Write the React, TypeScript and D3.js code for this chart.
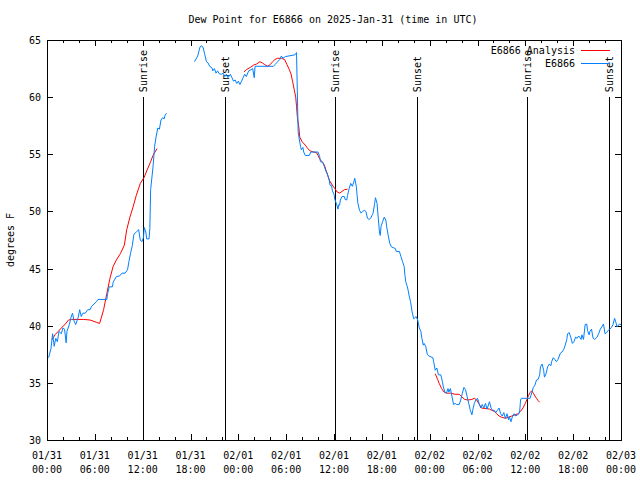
import React from 'react';
import * as d3 from 'd3';

// time = hours since 01/31 00:00 UTC, value = dew point (F)
const obsSeg1: [number, number][] = [
  [0.2, 37.2], [0.5, 38.0], [0.7, 39.3], [0.8, 38.8], [0.9, 38.2], [1.1, 38.9], [1.3, 38.6],
  [1.5, 39.5], [1.8, 39.3], [2.0, 39.8], [2.2, 39.7], [2.4, 38.5], [2.5, 39.5], [2.8, 40.1],
  [3.0, 40.7], [3.2, 41.1], [3.4, 40.4], [3.6, 40.1], [3.9, 40.7], [4.1, 41.4], [4.3, 40.8],
  [4.5, 41.1], [4.8, 41.1], [5.1, 41.4], [5.4, 41.4], [5.6, 41.7], [5.9, 41.9], [6.2, 42.1],
  [6.4, 42.3], [7.5, 42.3], [7.6, 42.8], [7.8, 43.4], [8.2, 43.4], [8.3, 43.8], [8.7, 44.3],
  [9.1, 44.35], [9.4, 44.6], [9.8, 44.6], [10.1, 44.9], [10.3, 45.7], [10.5, 46.4], [10.7, 47.0],
  [10.9, 48.0], [11.2, 48.2], [11.5, 48.4], [11.7, 47.5], [11.9, 47.35], [12.1, 47.7], [12.2, 48.6],
  [12.4, 48.2], [12.5, 47.6], [12.8, 47.6], [12.9, 48.5], [13.0, 51.9], [13.3, 53.9], [13.5, 55.7],
  [13.7, 56.6], [13.9, 57.3], [14.1, 57.2], [14.3, 58.0], [14.5, 58.2], [14.7, 58.1], [14.8, 58.4],
  [15.0, 58.6],
];

const obsSeg2: [number, number][] = [
  [18.5, 63.1], [18.9, 63.6], [19.2, 64.4], [19.4, 64.5], [19.6, 64.3], [19.8, 63.7], [20.0, 63.1],
  [20.2, 63.0], [20.4, 62.7], [20.7, 62.55], [20.8, 62.3], [21.0, 62.5], [21.2, 62.1], [21.4, 62.3],
  [21.6, 62.05], [21.9, 62.0], [22.1, 62.1], [22.3, 61.8], [22.5, 62.0], [22.7, 61.7], [23.0, 62.0],
  [23.2, 61.7], [23.4, 61.4], [23.6, 61.5], [23.8, 61.2], [24.0, 61.4], [24.2, 61.1], [24.4, 61.4],
  [24.6, 61.7], [24.8, 62.0], [25.0, 61.8], [25.3, 62.3], [25.6, 62.4], [25.8, 62.5], [26.0, 61.7],
  [26.1, 62.7], [28.4, 62.7], [28.6, 62.85], [28.8, 63.0], [29.2, 63.3], [29.4, 63.6], [29.6, 63.4],
  [29.9, 63.55], [31.1, 63.7], [31.3, 63.9], [31.4, 60.5], [31.5, 57.0], [31.6, 56.5], [31.8, 55.7],
  [31.9, 55.4], [32.1, 55.6], [32.2, 55.2], [32.4, 54.9], [32.9, 54.9], [33.1, 55.2], [34.0, 55.2],
  [34.2, 54.8], [34.3, 54.35], [34.6, 54.3], [34.8, 53.9], [35.0, 53.5], [35.2, 53.2], [35.4, 52.75],
  [35.5, 52.3], [35.7, 52.25], [35.8, 51.8], [36.0, 51.5], [36.1, 51.05], [36.3, 50.7], [36.5, 50.2],
  [36.6, 50.6], [36.7, 50.55], [36.8, 51.0], [37.0, 51.3], [37.3, 51.3], [37.4, 51.05], [37.6, 51.0],
  [37.7, 51.4], [37.9, 52.0], [38.1, 52.45], [38.3, 52.2], [38.5, 52.6], [38.6, 52.9], [38.8, 52.2],
  [38.9, 51.4], [39.0, 50.7], [39.2, 50.1], [39.4, 49.85], [39.6, 50.0], [39.8, 50.1], [40.0, 50.0],
  [40.2, 49.4], [40.4, 49.3], [40.6, 49.4], [40.8, 49.7], [40.9, 49.85], [41.1, 50.7], [41.2, 51.2],
  [41.4, 50.7], [41.5, 49.85], [41.7, 48.2], [41.8, 47.9], [41.9, 48.7], [42.1, 49.1], [42.3, 49.5],
  [42.5, 49.25], [42.6, 48.7], [42.8, 47.9], [43.0, 47.2], [43.2, 46.9], [43.7, 46.75], [43.8, 46.5],
  [44.2, 46.5], [44.4, 46.05], [44.6, 45.6], [44.8, 45.2], [44.9, 44.4], [45.0, 43.85], [45.2, 43.4],
  [45.3, 43.1], [45.4, 42.7], [45.6, 42.1], [45.8, 41.2], [46.0, 40.6], [46.3, 40.8], [46.5, 40.5],
  [46.7, 39.8], [46.9, 39.5], [47.0, 39.0], [47.2, 38.3], [47.3, 38.45], [47.5, 38.2], [47.7, 37.5],
  [47.9, 37.35], [48.4, 37.2], [48.5, 36.85], [48.7, 36.1], [48.9, 36.3], [49.1, 35.7], [49.4, 35.7],
  [49.6, 35.1], [49.7, 34.7], [49.9, 34.2], [50.1, 34.1], [50.3, 34.5], [50.4, 34.2], [50.6, 34.5],
  [50.8, 33.8], [51.0, 33.1], [51.2, 33.2], [51.4, 33.1], [51.7, 33.1], [51.9, 33.5], [52.1, 34.1],
  [52.3, 34.6], [52.5, 34.4], [52.7, 33.8], [52.9, 33.2], [53.1, 32.6], [53.3, 32.2], [53.4, 32.6],
  [53.6, 33.2], [53.8, 33.5], [54.0, 33.65], [54.2, 33.2], [54.4, 32.8], [54.6, 33.1], [54.8, 32.8],
  [55.0, 33.2], [55.2, 32.7], [55.5, 33.35], [55.7, 32.8], [55.9, 32.6], [56.1, 32.6], [56.3, 32.4],
  [56.5, 32.6], [56.7, 32.8], [56.9, 32.3], [57.1, 32.1], [57.3, 32.4], [57.5, 31.9], [57.7, 32.3],
  [57.9, 31.75], [58.0, 32.05], [58.2, 31.6], [58.4, 32.1], [58.6, 32.3], [58.8, 32.1], [59.0, 32.2],
  [59.2, 32.3], [59.3, 32.6], [59.4, 33.5], [59.5, 33.65], [60.6, 33.65], [61.0, 34.6], [61.2, 34.8],
  [61.4, 35.25], [61.6, 35.3], [61.8, 35.7], [61.9, 36.4], [62.1, 36.65], [62.3, 36.1], [62.4, 35.5],
  [62.6, 35.8], [62.8, 36.4], [63.0, 36.65], [63.2, 36.5], [63.3, 36.85], [63.5, 37.2], [63.7, 37.05],
  [63.9, 36.85], [64.1, 37.05], [64.4, 37.6], [64.6, 37.7], [64.8, 37.9], [65.0, 38.3], [65.2, 38.8],
  [65.3, 39.3], [65.5, 39.4], [65.7, 39.0], [65.9, 38.45], [66.1, 38.6], [66.3, 39.0], [66.5, 38.9],
  [66.7, 39.1], [67.0, 38.8], [67.1, 39.2], [67.3, 38.8], [67.5, 40.1], [67.7, 40.15], [67.8, 39.6],
  [68.0, 39.2], [68.1, 39.5], [68.3, 39.7], [68.5, 38.9], [68.7, 38.8], [69.0, 39.0], [69.2, 39.3],
  [69.4, 39.7], [69.6, 39.9], [69.8, 40.15], [70.0, 39.3], [70.2, 39.4], [70.4, 39.6], [70.6, 39.7],
  [70.8, 39.85], [71.0, 40.1], [71.2, 40.65], [71.4, 40.2], [71.5, 39.9], [71.8, 40.15], [72.0, 40.1],
];

const anaSeg1: [number, number][] = [
  [0.6, 38.75], [1.0, 39.2], [1.4, 39.5], [1.8, 39.8], [2.3, 40.15], [2.7, 40.5], [3.1, 40.55],
  [4.6, 40.55], [5.4, 40.5], [6.2, 40.3], [6.6, 40.2], [7.1, 41.4], [7.5, 42.8], [7.9, 44.15],
  [8.3, 45.2], [8.7, 45.75], [9.2, 46.3], [9.7, 47.05], [10.0, 48.4], [10.4, 49.5], [10.8, 50.4],
  [11.2, 51.4], [11.7, 52.45], [12.2, 53.0], [12.6, 53.7], [13.0, 54.35], [13.3, 54.9], [13.8, 55.5],
];

const anaSeg2: [number, number][] = [
  [24.7, 62.2], [25.0, 62.4], [25.5, 62.6], [25.9, 62.8], [26.3, 62.9], [26.7, 63.1], [27.0, 63.0],
  [27.3, 62.85], [27.7, 62.7], [28.0, 62.85], [28.3, 63.1], [28.6, 63.3], [28.9, 63.4], [29.4, 63.4],
  [29.8, 63.3], [30.1, 62.85], [30.4, 62.4], [30.6, 62.05], [30.8, 61.4], [31.0, 60.7], [31.2, 60.0],
  [31.3, 59.2], [31.4, 58.3], [31.6, 57.3], [31.7, 56.5], [32.0, 56.1], [32.4, 55.8], [32.7, 55.5],
  [33.0, 55.3], [33.4, 55.2], [33.8, 55.15], [34.0, 54.9], [34.2, 54.6], [34.5, 54.35], [34.8, 54.05],
  [35.0, 53.6], [35.2, 53.2], [35.4, 52.75], [35.7, 52.4], [35.9, 52.2], [36.1, 52.0], [36.4, 51.7],
  [36.7, 51.6], [37.0, 51.75], [37.3, 51.9], [37.7, 51.95],
];

const anaSeg3: [number, number][] = [
  [48.7, 35.8], [49.0, 35.3], [49.2, 34.95], [49.5, 34.5], [49.8, 34.2], [50.1, 34.1], [50.6, 34.1],
  [51.2, 34.0], [51.7, 34.0], [52.0, 33.8], [52.4, 33.55], [52.8, 33.5], [53.3, 33.55], [53.6, 33.65],
  [53.9, 33.5], [54.2, 33.15], [54.5, 32.8], [54.9, 32.75], [55.2, 32.75], [55.5, 32.7], [55.8, 32.6],
  [56.1, 32.5], [56.4, 32.3], [56.7, 32.1], [57.0, 32.0], [57.5, 31.9], [57.9, 32.0], [58.3, 32.1],
  [58.7, 32.2], [59.1, 32.3], [59.4, 32.5], [59.7, 32.8], [60.0, 33.2], [60.2, 33.55], [60.4, 33.9],
  [60.6, 34.15], [60.8, 34.3], [61.0, 34.1], [61.2, 33.85], [61.4, 33.65], [61.6, 33.45], [61.8, 33.3],
];

const sunTimes = [12.08, 22.33, 36.13, 46.45, 60.17, 70.53];
const sunLabels = ['Sunrise', 'Sunset', 'Sunrise', 'Sunset', 'Sunrise', 'Sunset'];

const xTickHours = [0, 6, 12, 18, 24, 30, 36, 42, 48, 54, 60, 66, 72];
const xTickDates = ['01/31', '01/31', '01/31', '01/31', '02/01', '02/01', '02/01', '02/01', '02/02', '02/02', '02/02', '02/02', '02/03'];
const xTickTimes = ['00:00', '06:00', '12:00', '18:00', '00:00', '06:00', '12:00', '18:00', '00:00', '06:00', '12:00', '18:00', '00:00'];
const yTicks = [30, 35, 40, 45, 50, 55, 60, 65];

const FONT = '"DejaVu Sans Mono", monospace';

export default function App() {
  const W = 640, H = 480;
  const L = 47, R = 621, T = 40, B = 440;
  const x = d3.scaleLinear().domain([0, 72]).range([L, R]);
  const y = d3.scaleLinear().domain([30, 65]).range([B, T]);
  const line = d3.line<[number, number]>().x(d => x(d[0])).y(d => y(d[1]));
  const minorHours = d3.range(0, 73, 2);
  const blue = '#0080ff';
  const red = '#ff0000';

  return (
    <svg width={W} height={H} style={{ position: 'absolute', left: 0, top: 0, background: '#fff' }}
      fontFamily={FONT} fontSize={10}>
      <rect x={0} y={0} width={W} height={H} fill="#fff" />
      <text x={333} y={23} textAnchor="middle">Dew Point for E6866 on 2025-Jan-31 (time in UTC)</text>

      {/* ticks */}
      <g stroke="#000" strokeWidth={1} shapeRendering="crispEdges">
        {minorHours.map(h => {
          const len = h % 6 === 0 ? 6 : 3;
          const px = Math.round(x(h)) + 0.5;
          return (
            <g key={'t' + h}>
              <line x1={px} x2={px} y1={B} y2={B - len} />
              <line x1={px} x2={px} y1={T} y2={T + len} />
            </g>
          );
        })}
        {yTicks.map(v => {
          const py = Math.round(y(v)) + 0.5;
          return (
            <g key={'y' + v}>
              <line x1={L} x2={L + 6} y1={py} y2={py} />
              <line x1={R} x2={R - 6} y1={py} y2={py} />
            </g>
          );
        })}
      </g>

      {/* sun lines */}
      <g stroke="#000" strokeWidth={1} shapeRendering="crispEdges">
        {sunTimes.map((h, i) => (
          <line key={'s' + i} x1={Math.round(x(h)) + 0.5} x2={Math.round(x(h)) + 0.5} y1={y(60)} y2={B} />
        ))}
      </g>
      {sunTimes.map((h, i) => (
        <text key={'sl' + i} transform={`translate(${x(h) + 4},${y(60) - 5}) rotate(-90)`}>{sunLabels[i]}</text>
      ))}

      {/* data */}
      <g fill="none" strokeWidth={1} strokeLinejoin="round">
        {[anaSeg1, anaSeg2, anaSeg3].map((s, i) => (
          <path key={'a' + i} d={line(s) || ''} stroke={red} />
        ))}
        {[obsSeg1, obsSeg2].map((s, i) => (
          <path key={'o' + i} d={line(s) || ''} stroke={blue} />
        ))}
      </g>

      {/* frame */}
      <rect x={L + 0.5} y={T + 0.5} width={R - L} height={B - T} fill="none" stroke="#000" strokeWidth={1} shapeRendering="crispEdges" />

      {/* y tick labels */}
      {yTicks.map(v => (
        <text key={'yl' + v} x={L - 6} y={y(v) + 4} textAnchor="end">{v}</text>
      ))}
      {/* x tick labels */}
      {xTickHours.map((h, i) => (
        <g key={'xl' + h}>
          <text x={x(h)} y={459} textAnchor="middle">{xTickDates[i]}</text>
          <text x={x(h)} y={473} textAnchor="middle">{xTickTimes[i]}</text>
        </g>
      ))}
      <text transform={`translate(14,240) rotate(-90)`} textAnchor="middle">degrees F</text>

      {/* legend */}
      <text x={575} y={54} textAnchor="end">E6866 Analysis</text>
      <line x1={581} x2={610} y1={50.5} y2={50.5} stroke={red} shapeRendering="crispEdges" />
      <text x={575} y={67} textAnchor="end">E6866</text>
      <line x1={581} x2={610} y1={63.5} y2={63.5} stroke={blue} shapeRendering="crispEdges" />
    </svg>
  );
}
